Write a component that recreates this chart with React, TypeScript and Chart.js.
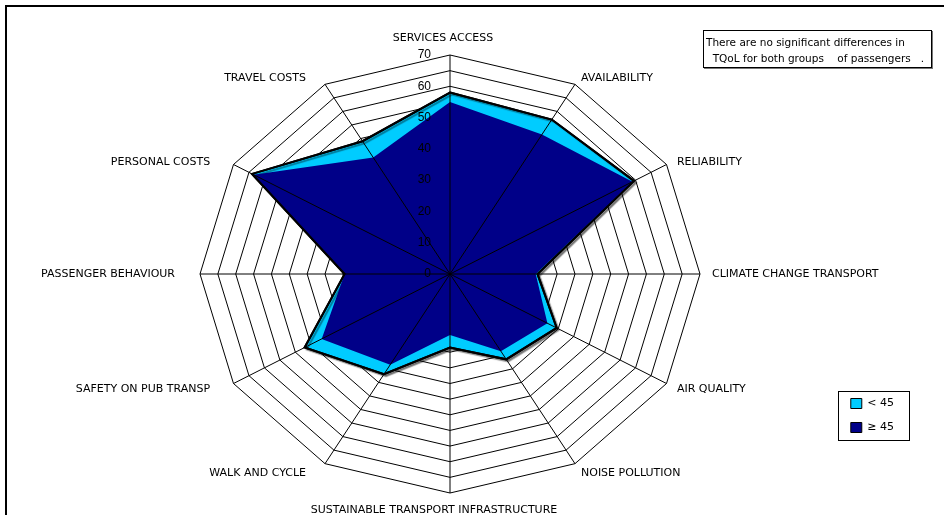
import React, { useEffect, useRef } from 'react';
import { Chart, registerables, RadialLinearScale } from 'chart.js';

// ---------------- data ----------------
const categories = [
  'SERVICES ACCESS',
  'AVAILABILITY',
  'RELIABILITY',
  'CLIMATE CHANGE TRANSPORT',
  'AIR QUALITY',
  'NOISE POLLUTION',
  'SUSTAINABLE TRANSPORT INFRASTRUCTURE',
  'WALK AND CYCLE',
  'SAFETY ON PUB TRANSP',
  'PASSENGER BEHAVIOUR',
  'PERSONAL COSTS',
  'TRAVEL COSTS',
];
const seriesNames = ['< 45', '≥ 45'];
const under45 = [58, 57, 59.5, 24.5, 34.5, 31.5, 23.5, 37, 47, 29.5, 64, 49];
const over45 = [55, 51.5, 59, 24, 31.5, 28.5, 19.5, 33.5, 41.5, 29.5, 63.5, 43];
const scaleMin = 0;
const scaleMax = 70;
const gridStep = 5;
const labelStep = 10;
const noteLines = [
  'There are no significant differences in',
  '  TQoL for both groups    of passengers   .',
];

// ---------------- layout / style ----------------
const W = 944;
const H = 515;
const CX = 450;
const CY = 274;
const RY = 219;
const RX = 250;
const FAMILY = '"DejaVu Sans", "Liberation Sans", sans-serif';
const TICK_FONT = '12px "Liberation Sans", "DejaVu Sans", sans-serif';
const TICK_GAP = 19;
const CYAN = '#00CCFF';
const NAVY = '#000088';

class EllipseRadialScale extends (RadialLinearScale as any) {
  static id = 'ellipseRadial';
  static defaults = (RadialLinearScale as any).defaults;

  setCenterPoint() {
    (this as any).xCenter = CX;
    (this as any).yCenter = CY;
    (this as any).drawingArea = RY;
  }

  getPointPosition(index: number, distance: number, additionalAngle = 0) {
    const self: any = this;
    const angle = self.getIndexAngle(index) - Math.PI / 2 + additionalAngle;
    return {
      x: Math.cos(angle) * distance * (RX / RY) + self.xCenter,
      y: Math.sin(angle) * distance + self.yCenter,
      angle,
    };
  }

  fit() {
    const self: any = this;
    super.fit();
    const items = self._pointLabelItems || [];
    items.forEach((it: any, i: number) => {
      let deg = (self.getIndexAngle(i) * 180) / Math.PI;
      deg = ((deg % 360) + 360) % 360;
      const near = (a: number) => Math.abs(deg - a) < 0.5;
      const h = it.bottom - it.top;
      let dy = 0;
      if (!near(0) && !near(360) && !near(90) && !near(180) && !near(270)) {
        dy = deg < 90 || deg > 270 ? h / 2 + 3 : -h / 2;
      }
      let dx = 0;
      if (it.textAlign === 'right') dx = -13;
      else if (it.textAlign === 'left') dx = 0;
      else dx = near(180) ? -16 : -7;
      it.x += dx;
      it.left += dx;
      it.right += dx;
      it.y += dy;
      it.top += dy;
      it.bottom += dy;
    });
  }

  drawLabels() {
    const self: any = this;
    const ctx = self.ctx;
    ctx.save();
    ctx.font = TICK_FONT;
    ctx.fillStyle = '#000';
    ctx.textAlign = 'right';
    ctx.textBaseline = 'middle';
    for (const tick of self.ticks) {
      if (tick.label === '' || tick.label == null) continue;
      const d = self.getDistanceFromCenterForValue(tick.value);
      ctx.fillText(String(tick.label), self.xCenter - TICK_GAP, self.yCenter - d);
    }
    ctx.restore();
  }
}

Chart.register(...registerables, EllipseRadialScale as any);

const resetShadow = (ctx: CanvasRenderingContext2D) => {
  ctx.shadowColor = 'rgba(0,0,0,0)';
  ctx.shadowOffsetX = 0;
  ctx.shadowOffsetY = 0;
  ctx.shadowBlur = 0;
};

const decorPlugin = {
  id: 'decor',
  beforeDatasetsDraw(chart: any) {
    const ctx = chart.ctx;
    ctx.shadowColor = 'rgba(0,0,0,0.4)';
    ctx.shadowOffsetX = 2;
    ctx.shadowOffsetY = 2;
    ctx.shadowBlur = 1;
  },
  afterDatasetDraw(chart: any, args: any) {
    if (args.index === 0) resetShadow(chart.ctx);
  },
  afterDatasetsDraw(chart: any) {
    const ctx = chart.ctx;
    resetShadow(ctx);
    const meta = chart.getDatasetMeta(0);
    if (meta && meta.dataset) meta.dataset.draw(ctx, chart.chartArea);
    const s = chart.scales.r;
    ctx.save();
    ctx.strokeStyle = '#000';
    ctx.lineWidth = 1;
    for (let i = 0; i < chart.data.labels.length; i++) {
      const p = s.getPointPositionForValue(i, s.max);
      ctx.beginPath();
      ctx.moveTo(s.xCenter, s.yCenter);
      ctx.lineTo(p.x, p.y);
      ctx.stroke();
    }
    ctx.restore();
  },
  afterDraw(chart: any) {
    const ctx = chart.ctx;
    ctx.save();
    ctx.fillStyle = '#000';
    ctx.fillRect(5, 5, W, 2);
    ctx.fillRect(5, 5, 2, H);
    const lg = chart.legend;
    const hb = lg && lg.legendHitBoxes;
    if (hb && hb.length) {
      const lefts = hb.map((b: any) => b.left);
      const tops = hb.map((b: any) => b.top);
      const x0 = Math.round(Math.min(...lefts) - 13) + 0.5;
      const right = Math.max(...hb.map((b: any) => b.left + b.width));
      const x1 = Math.round(right + 15) + 0.5;
      const y0 = Math.round(Math.min(...tops) - 7) + 0.5;
      const bottom = Math.max(...hb.map((b: any) => b.top + b.height));
      const y1 = Math.round(bottom + 7) + 0.5;
      ctx.strokeStyle = '#000';
      ctx.lineWidth = 1;
      ctx.strokeRect(x0, y0, x1 - x0, y1 - y0);
    }
    ctx.restore();
  },
};

export default function App() {
  const ref = useRef<HTMLCanvasElement>(null);

  useEffect(() => {
    if (!ref.current) return;
    const chart = new Chart(ref.current, {
      type: 'radar',
      data: {
        labels: categories,
        datasets: [
          {
            label: seriesNames[0],
            data: under45,
            backgroundColor: CYAN,
            borderColor: '#000',
            borderWidth: 2,
            fill: true,
            pointRadius: 0,
            pointHitRadius: 0,
            order: 2,
            clip: false,
          } as any,
          {
            label: seriesNames[1],
            data: over45,
            backgroundColor: NAVY,
            borderColor: 'rgba(0,0,0,0)',
            borderWidth: 0,
            fill: true,
            pointRadius: 0,
            pointHitRadius: 0,
            order: 1,
            clip: false,
          } as any,
        ],
      },
      options: {
        responsive: false,
        animation: false,
        devicePixelRatio: 1,
        events: [],
        layout: { padding: { right: 40, bottom: 69 } },
        elements: { line: { tension: 0 } },
        plugins: {
          title: { display: false },
          tooltip: { enabled: false },
          legend: {
            display: true,
            position: 'right',
            align: 'end',
            labels: {
              boxWidth: 11,
              boxHeight: 10,
              padding: 13,
              color: '#000',
              font: { family: FAMILY, size: 11 },
              sort: (a: any, b: any) => a.datasetIndex - b.datasetIndex,
              generateLabels: (c: any) =>
                (Chart.defaults.plugins.legend.labels as any)
                  .generateLabels(c)
                  .map((l: any) => ({ ...l, strokeStyle: '#000', lineWidth: 1 })),
            },
          },
        },
        scales: {
          r: {
            type: 'ellipseRadial',
            min: scaleMin,
            max: scaleMax,
            ticks: {
              stepSize: gridStep,
              display: true,
              showLabelBackdrop: false,
              color: '#000',
              font: { family: FAMILY, size: 11 },
              z: 1,
              callback: (v: number) => (v % labelStep === 0 ? String(v) : ''),
            },
            grid: { color: '#000', lineWidth: 1 },
            angleLines: { display: false },
            pointLabels: {
              display: true,
              color: '#000',
              padding: 3,
              font: { family: FAMILY, size: 11 },
            },
          } as any,
        },
      } as any,
      plugins: [decorPlugin as any],
    });
    return () => chart.destroy();
  }, []);

  return (
    <div
      style={{
        position: 'fixed',
        left: 0,
        top: 0,
        width: W,
        height: H,
        overflow: 'hidden',
        background: '#fff',
      }}
    >
      <canvas ref={ref} width={W} height={H} style={{ display: 'block' }} />
      <div
        style={{
          position: 'absolute',
          left: 703,
          top: 30,
          width: 229,
          height: 38,
          boxSizing: 'border-box',
          border: '1px solid #000',
          boxShadow: '1px 1px 0 #777',
          background: '#fff',
          fontFamily: FAMILY,
          fontSize: '10.5px',
          lineHeight: '16px',
          padding: '3px 0 0 2px',
          whiteSpace: 'pre',
          color: '#000',
          overflow: 'hidden',
        }}
      >
        {noteLines.join('\n')}
      </div>
    </div>
  );
}
